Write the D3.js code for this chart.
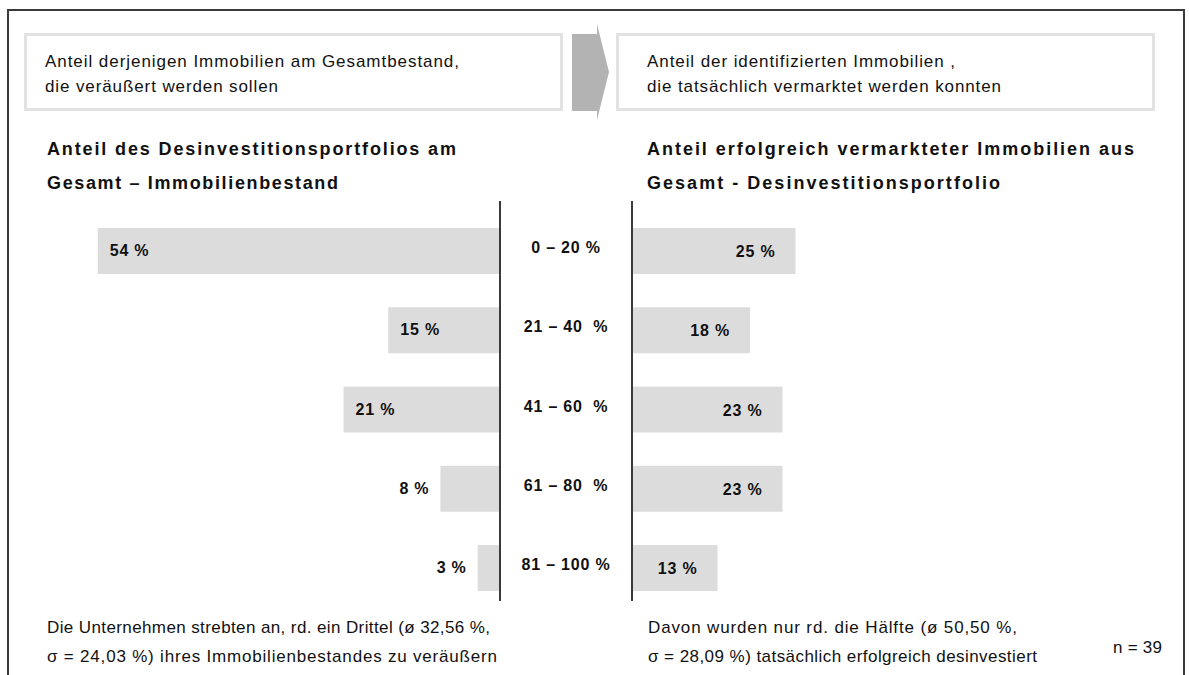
<!DOCTYPE html>
<html>
<head>
<meta charset="utf-8">
<script src="https://cdn.jsdelivr.net/npm/d3@7"></script>
<style>
  html, body { margin: 0; padding: 0; background: #fff; }
  svg { display: block; }
  text { font-family: "Liberation Sans", Arial, sans-serif; fill: #111; }
</style>
</head>
<body>
<svg id="chart" width="1189" height="675"></svg>
<script>
// ---- data ----
const categories = ["0 – 20 %", "21 – 40  %", "41 – 60  %", "61 – 80  %", "81 – 100 %"];
const shareTargeted = [54, 15, 21, 8, 3];   // Anteil des Desinvestitionsportfolios am Gesamtbestand
const shareSold = [25, 18, 23, 23, 13];     // Anteil erfolgreich vermarkteter Immobilien
const valueLabelsLeft = ["54 %", "15 %", "21 %", "8 %", "3 %"];
const valueLabelsRight = ["25 %", "18 %", "23 %", "23 %", "13 %"];
const headerLeft = ["Anteil derjenigen Immobilien am Gesamtbestand,", "die veräußert werden sollen"];
const headerRight = ["Anteil der identifizierten Immobilien ,", "die tatsächlich vermarktet werden konnten"];
const titleLeft = ["Anteil des Desinvestitionsportfolios am", "Gesamt – Immobilienbestand"];
const titleRight = ["Anteil erfolgreich vermarkteter Immobilien aus", "Gesamt - Desinvestitionsportfolio"];
const footLeft = ["Die Unternehmen strebten an, rd. ein Drittel (ø 32,56 %,", "σ = 24,03 %) ihres Immobilienbestandes zu veräußern"];
const footRight = ["Davon wurden nur rd. die Hälfte (ø 50,50 %,", "σ = 28,09 %) tatsächlich erfolgreich desinvestiert"];
const sampleNote = "n = 39";

// ---- layout ----
const svg = d3.select("#chart");
const axisL = 500, axisR = 632;
const barColor = "#dcdcdc";

// outer frame
svg.append("rect").attr("x", 8).attr("y", 10).attr("width", 1176).attr("height", 700)
  .attr("fill", "none").attr("stroke", "#3a3a3a").attr("stroke-width", 2);

// header boxes
[[24, headerLeft, [414, 233], 45], [616, headerRight, [308, 354], 647]].forEach(([x0, lines, lens, tx]) => {
  svg.append("rect").attr("x", x0 + 1.5).attr("y", 34.5).attr("width", 536).attr("height", 75)
    .attr("fill", "#fff").attr("stroke", "#e2e2e2").attr("stroke-width", 3);
  lines.forEach((t, i) => {
    svg.append("text").attr("x", tx).attr("y", 67 + i * 25)
      .attr("font-size", 17).attr("textLength", lens[i]).attr("lengthAdjust", "spacing").text(t);
  });
});
// arrow between boxes
svg.append("path")
  .attr("d", "M572,34 L597,34 L597,24 L609,72 L597,120 L597,111 L572,111 Z")
  .attr("fill", "#b3b3b3");

// section titles
function bold(lines, x, lens) {
  lines.forEach((t, i) => {
    svg.append("text").attr("x", x).attr("y", 155 + i * 34)
      .attr("font-size", 18).attr("font-weight", "bold")
      .attr("textLength", lens[i]).attr("lengthAdjust", "spacing").text(t);
  });
}
bold(titleLeft, 47, [409, 291]);
bold(titleRight, 647, [487, 353]);

// scales
const y = d3.scaleBand().domain(categories).range([211.4, 607.65]).paddingInner(0.42).paddingOuter(0.21);
const xLeft = d3.scaleLinear().domain([0, 100]).range([0, 745]);
const xRight = d3.scaleLinear().domain([0, 100]).range([0, 650]);

const rows = categories.map((c, i) => ({ c, l: shareTargeted[i], r: shareSold[i], ll: valueLabelsLeft[i], rl: valueLabelsRight[i] }));

// bars
svg.selectAll(".barL").data(rows).join("rect").attr("class", "barL")
  .attr("x", d => axisL - xLeft(d.l)).attr("y", d => y(d.c))
  .attr("width", d => xLeft(d.l)).attr("height", y.bandwidth()).attr("fill", barColor);
svg.selectAll(".barR").data(rows).join("rect").attr("class", "barR")
  .attr("x", axisR + 1).attr("y", d => y(d.c))
  .attr("width", d => xRight(d.r)).attr("height", y.bandwidth()).attr("fill", barColor);

// axis lines
[axisL, axisR].forEach(x => {
  svg.append("line").attr("x1", x).attr("x2", x).attr("y1", 201).attr("y2", 601)
    .attr("stroke", "#3a3a3a").attr("stroke-width", 2);
});

// value labels
svg.selectAll(".lblL").data(rows).join("text").attr("class", "lblL")
  .attr("font-size", 16).attr("font-weight", "bold").attr("letter-spacing", "0.8px")
  .attr("x", d => xLeft(d.l) >= 70 ? axisL - xLeft(d.l) + 12 : axisL - xLeft(d.l) - 11)
  .attr("text-anchor", d => xLeft(d.l) >= 70 ? "start" : "end")
  .attr("y", d => y(d.c) + 28).text(d => d.ll);
svg.selectAll(".lblR").data(rows).join("text").attr("class", "lblR")
  .attr("font-size", 16).attr("font-weight", "bold").attr("letter-spacing", "0.8px")
  .attr("x", d => axisR + 1 + xRight(d.r) - 20).attr("text-anchor", "end")
  .attr("y", d => y(d.c) + 29).text(d => d.rl);
// category labels (centre)
svg.selectAll(".cat").data(rows).join("text").attr("class", "cat")
  .attr("font-size", 16).attr("font-weight", "bold").attr("letter-spacing", "0.8px")
  .style("white-space", "pre").attr("xml:space", "preserve")
  .attr("x", (axisL + axisR) / 2).attr("text-anchor", "middle")
  .attr("y", d => y(d.c) + 25).text(d => d.c);

// footers
[[47, footLeft, [443, 450]], [648, footRight, [369, 389]]].forEach(([x0, lines, lens]) => {
  lines.forEach((t, i) => {
    svg.append("text").attr("x", x0).attr("y", 633 + i * 29)
      .attr("font-size", 17).attr("textLength", lens[i]).attr("lengthAdjust", "spacing").text(t);
  });
});
svg.append("text").attr("x", 1113).attr("y", 653).attr("font-size", 17)
  .attr("textLength", 49).attr("lengthAdjust", "spacing").text(sampleNote);
</script>
</body>
</html>
